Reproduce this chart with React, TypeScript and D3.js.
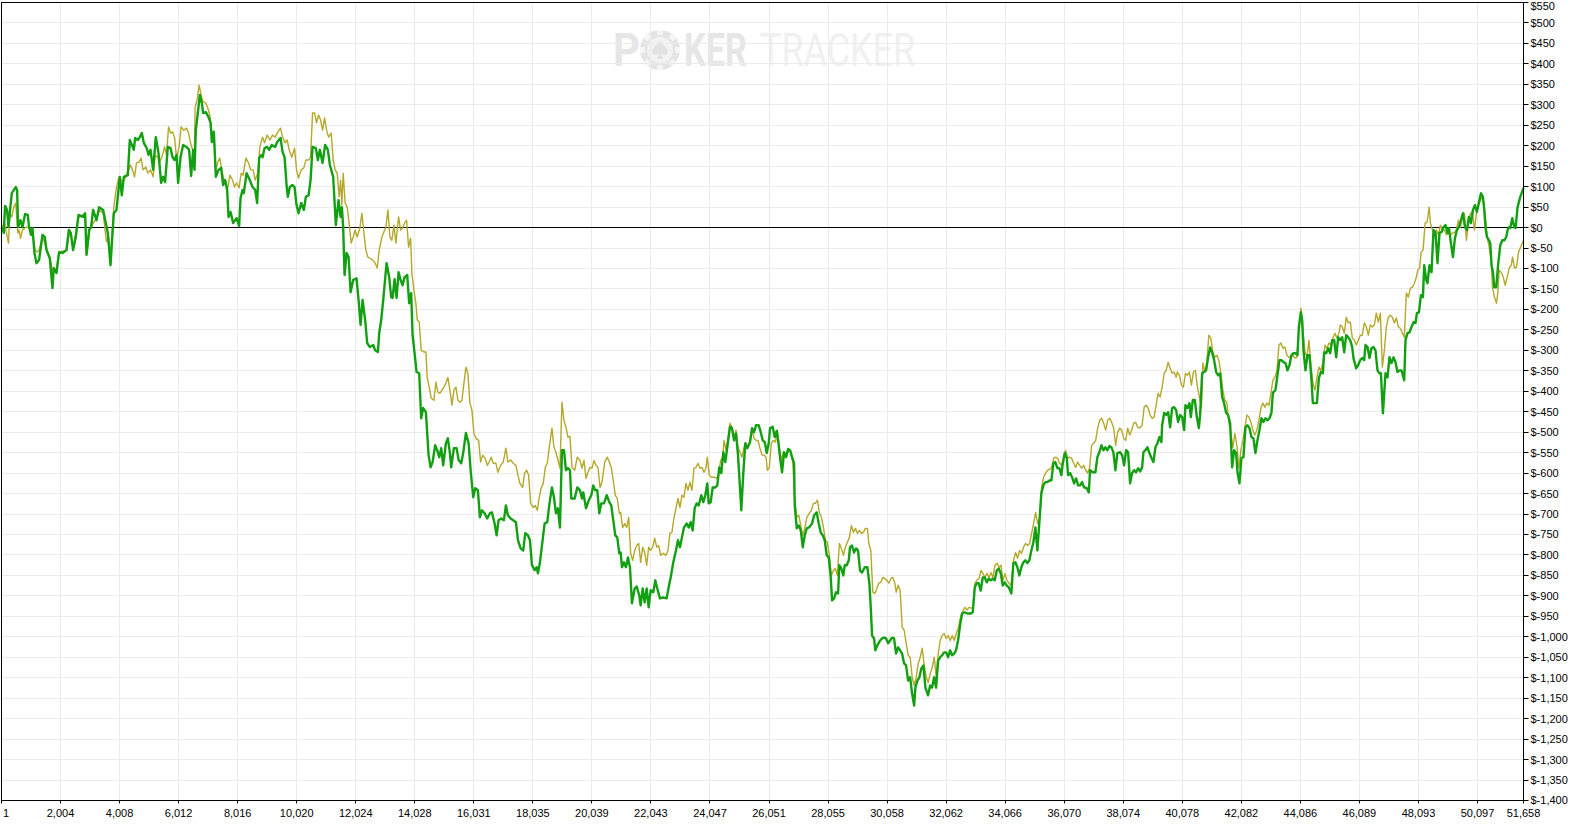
import React from 'react';
import * as d3 from 'd3';

// hand number -> cumulative winnings ($)
const greenSeries: [number, number][] = [
  [1,0],[78,-13],[122,53],[190,43],[238,2],[282,35],[350,84],[485,99],[530,92],[564,1],[645,18],[713,1],[801,33],[893,31],[937,1],[1005,-18],[1052,-1],[1120,-62],[1188,-87],[1277,-79],[1392,-18],[1470,-23],[1528,-55],[1640,-75],[1731,-148],[1776,-99],[1867,-111],[1956,-60],[2071,-62],[2207,-55],[2285,-6],[2353,-13],[2431,-55],[2522,-23],[2614,31],[2770,26],[2838,35],[2886,-67],[2974,-6],[3042,1],[3110,43],[3225,18],[3314,50],[3449,43],[3541,11],[3609,-13],[3701,-92],[3813,35],[3904,43],[4016,124],[4084,79],[4152,124],[4288,128],[4356,214],[4492,190],[4536,219],[4627,214],[4695,221],[4763,231],[4831,207],[4923,195],[4991,178],[5059,190],[5147,141],[5238,221],[5330,182],[5418,109],[5486,124],[5554,111],[5646,197],[5738,194],[5806,172],[5873,165],[5941,177],[5996,109],[6077,172],[6165,202],[6281,197],[6369,190],[6437,126],[6505,190],[6552,141],[6596,238],[6664,280],[6732,324],[6800,304],[6844,280],[6936,282],[7028,270],[7096,256],[7140,209],[7208,234],[7276,124],[7367,141],[7455,146],[7523,104],[7591,116],[7659,92],[7707,26],[7775,38],[7863,11],[7978,23],[8066,4],[8114,72],[8182,92],[8226,84],[8318,133],[8430,116],[8521,99],[8610,92],[8678,60],[8746,170],[8814,177],[8861,172],[8929,194],[9017,197],[9085,190],[9177,202],[9289,197],[9357,209],[9472,219],[9540,185],[9608,172],[9676,104],[9720,75],[9788,99],[9879,104],[9947,99],[10015,55],[10083,35],[10172,60],[10263,43],[10331,75],[10423,79],[10491,116],[10558,197],[10670,194],[10738,165],[10806,190],[10898,158],[10986,202],[11078,190],[11146,153],[11258,124],[11349,6],[11441,67],[11509,26],[11553,50],[11597,1],[11645,-116],[11713,-62],[11781,-72],[11849,-158],[11937,-128],[12052,-124],[12120,-177],[12188,-238],[12256,-177],[12344,-226],[12412,-282],[12504,-292],[12616,-287],[12684,-300],[12776,-304],[12820,-258],[12888,-226],[12956,-177],[13071,-87],[13160,-121],[13227,-170],[13275,-172],[13342,-126],[13410,-172],[13478,-109],[13546,-128],[13614,-141],[13682,-121],[13770,-116],[13838,-185],[13906,-160],[13953,-263],[14021,-307],[14089,-353],[14177,-356],[14245,-466],[14313,-441],[14405,-451],[14496,-556],[14564,-586],[14632,-573],[14720,-532],[14788,-544],[14856,-561],[14924,-539],[14992,-581],[15084,-527],[15152,-515],[15220,-551],[15264,-586],[15356,-539],[15447,-539],[15515,-568],[15603,-576],[15671,-551],[15763,-502],[15855,-527],[15923,-593],[16011,-659],[16079,-637],[16170,-642],[16238,-708],[16306,-691],[16398,-698],[16486,-711],[16578,-698],[16646,-696],[16737,-723],[16805,-752],[16873,-715],[16961,-711],[17053,-715],[17121,-679],[17189,-703],[17281,-711],[17369,-715],[17461,-720],[17529,-764],[17620,-784],[17709,-789],[17776,-747],[17868,-752],[17936,-764],[18004,-825],[18096,-837],[18164,-830],[18208,-845],[18276,-818],[18344,-777],[18435,-723],[18524,-720],[18591,-679],[18683,-635],[18751,-659],[18819,-698],[18887,-686],[18955,-733],[19023,-544],[19091,-544],[19159,-593],[19227,-588],[19295,-593],[19339,-662],[19455,-662],[19543,-635],[19635,-642],[19703,-662],[19747,-647],[19839,-686],[19930,-667],[20019,-654],[20086,-630],[20154,-642],[20222,-642],[20290,-698],[20358,-674],[20450,-674],[20542,-654],[20630,-671],[20696,-679],[20764,-715],[20832,-752],[20900,-757],[20968,-796],[21015,-794],[21059,-830],[21127,-818],[21195,-830],[21263,-806],[21331,-830],[21399,-918],[21491,-882],[21559,-877],[21647,-899],[21694,-923],[21762,-882],[21830,-916],[21898,-882],[21966,-928],[22034,-886],[22122,-891],[22190,-862],[22258,-882],[22349,-906],[22461,-904],[22577,-906],[22645,-879],[22713,-855],[22801,-818],[22893,-789],[22961,-764],[23028,-781],[23096,-757],[23164,-733],[23256,-723],[23324,-733],[23392,-720],[23460,-740],[23527,-686],[23595,-674],[23663,-679],[23752,-654],[23820,-671],[23888,-654],[23955,-625],[24003,-674],[24071,-671],[24139,-635],[24227,-635],[24295,-630],[24363,-586],[24431,-600],[24499,-549],[24567,-573],[24658,-524],[24726,-487],[24794,-490],[24862,-520],[24930,-503],[24998,-556],[25066,-637],[25110,-691],[25178,-600],[25246,-527],[25314,-539],[25406,-524],[25474,-490],[25542,-500],[25610,-483],[25702,-483],[25770,-500],[25837,-520],[25905,-524],[25973,-551],[26041,-527],[26085,-490],[26177,-487],[26245,-512],[26313,-497],[26381,-532],[26425,-563],[26493,-598],[26561,-549],[26629,-561],[26697,-541],[26765,-544],[26833,-561],[26901,-576],[26924,-679],[26992,-735],[27060,-728],[27128,-740],[27196,-781],[27264,-752],[27332,-735],[27420,-732],[27512,-723],[27580,-703],[27670,-696],[27738,-723],[27806,-745],[27874,-752],[27942,-764],[28010,-801],[28078,-806],[28146,-855],[28190,-911],[28258,-906],[28326,-891],[28394,-894],[28437,-825],[28505,-833],[28573,-850],[28621,-825],[28689,-825],[28757,-813],[28800,-781],[28868,-777],[28936,-794],[29004,-784],[29072,-789],[29140,-838],[29208,-843],[29300,-830],[29389,-830],[29457,-870],[29504,-928],[29548,-997],[29616,-1004],[29660,-1033],[29728,-1021],[29820,-1009],[29888,-1004],[29956,-1002],[30024,-1004],[30092,-1016],[30159,-1009],[30227,-1002],[30295,-1004],[30363,-1041],[30431,-1026],[30499,-1033],[30567,-1041],[30635,-1065],[30703,-1070],[30771,-1107],[30839,-1099],[30907,-1138],[30975,-1168],[31019,-1124],[31087,-1107],[31155,-1099],[31223,-1077],[31291,-1070],[31359,-1124],[31450,-1143],[31518,-1119],[31586,-1124],[31654,-1099],[31722,-1124],[31790,-1058],[31858,-1050],[31926,-1045],[31994,-1038],[32062,-1038],[32130,-1050],[32197,-1033],[32265,-1045],[32333,-1041],[32399,-1033],[32467,-1009],[32535,-972],[32602,-943],[32694,-940],[32782,-943],[32898,-943],[32966,-940],[33034,-879],[33102,-869],[33169,-869],[33237,-887],[33305,-855],[33373,-855],[33441,-867],[33509,-858],[33577,-862],[33645,-858],[33712,-862],[33780,-838],[33848,-833],[33916,-845],[33984,-875],[34052,-867],[34120,-875],[34188,-879],[34276,-894],[34344,-820],[34412,-818],[34480,-830],[34548,-850],[34615,-830],[34683,-818],[34751,-813],[34819,-820],[34887,-813],[34955,-789],[35023,-769],[35091,-733],[35159,-789],[35226,-720],[35294,-649],[35362,-630],[35430,-622],[35498,-622],[35566,-618],[35634,-618],[35702,-576],[35770,-573],[35838,-588],[35906,-588],[35973,-605],[36021,-576],[36089,-551],[36157,-563],[36201,-605],[36269,-600],[36337,-610],[36405,-625],[36473,-613],[36541,-630],[36609,-630],[36677,-622],[36744,-635],[36836,-637],[36904,-647],[36948,-593],[37040,-598],[37128,-598],[37196,-561],[37264,-549],[37332,-532],[37400,-544],[37467,-537],[37535,-544],[37603,-534],[37671,-537],[37739,-549],[37807,-593],[37875,-551],[37967,-549],[38035,-556],[38103,-581],[38170,-544],[38238,-549],[38306,-625],[38374,-600],[38442,-593],[38510,-598],[38578,-588],[38646,-596],[38714,-586],[38758,-549],[38826,-544],[38894,-537],[38962,-551],[39030,-563],[39097,-573],[39165,-537],[39233,-527],[39301,-512],[39369,-524],[39393,-483],[39461,-453],[39529,-458],[39597,-451],[39664,-488],[39732,-441],[39800,-439],[39868,-446],[39936,-475],[40004,-458],[40072,-463],[40140,-495],[40184,-434],[40252,-441],[40319,-429],[40367,-463],[40435,-421],[40503,-421],[40571,-463],[40639,-490],[40683,-458],[40751,-356],[40818,-353],[40886,-349],[40954,-317],[41022,-293],[41090,-305],[41158,-324],[41226,-353],[41294,-361],[41362,-356],[41430,-414],[41497,-429],[41565,-453],[41633,-458],[41701,-478],[41769,-586],[41837,-544],[41905,-551],[41949,-598],[42017,-625],[42085,-563],[42153,-561],[42221,-488],[42289,-483],[42357,-490],[42424,-512],[42492,-515],[42560,-551],[42628,-520],[42696,-495],[42764,-466],[42832,-475],[42900,-466],[42968,-471],[43036,-466],[43103,-453],[43151,-404],[43239,-397],[43307,-361],[43375,-324],[43443,-324],[43511,-329],[43579,-331],[43647,-349],[43715,-336],[43782,-312],[43850,-307],[43918,-307],[43986,-312],[44034,-243],[44102,-207],[44146,-226],[44190,-300],[44258,-349],[44326,-312],[44394,-312],[44462,-373],[44509,-429],[44577,-429],[44645,-429],[44713,-368],[44781,-353],[44849,-356],[44893,-305],[44961,-307],[45029,-295],[45097,-307],[45165,-275],[45233,-275],[45301,-317],[45368,-268],[45436,-275],[45504,-268],[45572,-305],[45640,-263],[45708,-268],[45776,-275],[45844,-292],[45888,-319],[45979,-344],[46047,-336],[46115,-324],[46183,-319],[46251,-324],[46295,-287],[46363,-292],[46431,-319],[46499,-295],[46567,-292],[46634,-300],[46702,-349],[46770,-356],[46818,-356],[46886,-454],[46930,-405],[46974,-356],[47042,-366],[47110,-317],[47178,-331],[47246,-317],[47314,-329],[47381,-353],[47449,-349],[47517,-349],[47609,-373],[47653,-275],[47721,-258],[47789,-256],[47857,-243],[47925,-231],[47993,-233],[48041,-209],[48109,-207],[48177,-165],[48244,-170],[48288,-92],[48356,-128],[48400,-136],[48468,-92],[48536,-109],[48604,-6],[48672,-13],[48740,-87],[48808,-13],[48876,-11],[48944,1],[49011,6],[49079,-13],[49127,-1],[49195,-38],[49263,-72],[49331,-26],[49399,-6],[49467,1],[49535,18],[49603,35],[49671,1],[49738,-6],[49806,26],[49874,11],[49942,43],[50010,55],[50078,38],[50146,62],[50214,84],[50282,75],[50326,43],[50370,-1],[50418,-23],[50486,-31],[50530,-38],[50574,-92],[50622,-109],[50666,-146],[50734,-146],[50802,-87],[50870,-43],[50938,-31],[51006,-31],[51074,-23],[51118,-6],[51165,1],[51209,-1],[51277,23],[51345,1],[51389,-1],[51457,50],[51549,75],[51658,97],
];

const yellowSeries: [number, number][] = [
  [1,0],[102,11],[170,-13],[238,-38],[282,35],[350,26],[418,50],[485,60],[553,-13],[598,-6],[645,-26],[713,-6],[825,1],[961,-1],[1052,-13],[1141,-55],[1209,-60],[1277,-55],[1392,-23],[1640,-72],[1731,-104],[1843,-109],[1956,-60],[2207,-55],[2319,-6],[2431,-48],[2614,23],[2838,35],[2906,-62],[2998,-6],[3134,13],[3225,23],[3337,43],[3449,35],[3565,-35],[3633,-23],[3701,-72],[3813,50],[3904,99],[3993,124],[4108,111],[4220,124],[4312,141],[4380,153],[4447,141],[4515,124],[4583,158],[4672,160],[4739,170],[4807,141],[4899,148],[4967,133],[5059,141],[5147,124],[5215,177],[5306,172],[5374,160],[5466,177],[5534,197],[5602,177],[5670,246],[5738,231],[5806,234],[5873,221],[5941,170],[6030,197],[6097,246],[6189,238],[6281,243],[6349,231],[6417,207],[6484,190],[6552,190],[6573,295],[6641,312],[6708,348],[6776,324],[6844,307],[6936,304],[7004,292],[7072,275],[7140,234],[7208,234],[7276,141],[7343,160],[7411,170],[7479,141],[7547,116],[7615,104],[7683,97],[7751,128],[7843,116],[7910,99],[7978,109],[8066,97],[8134,133],[8202,128],[8294,170],[8386,158],[8454,141],[8542,141],[8610,116],[8701,133],[8769,197],[8861,221],[8929,207],[9017,226],[9109,214],[9200,226],[9289,221],[9380,234],[9472,243],[9540,221],[9628,207],[9696,214],[9764,190],[9856,172],[9947,194],[10015,141],[10083,121],[10172,141],[10263,146],[10331,165],[10423,165],[10491,172],[10558,280],[10626,280],[10694,256],[10762,275],[10830,263],[10898,238],[10966,268],[11034,238],[11102,221],[11190,231],[11258,165],[11326,141],[11394,133],[11461,75],[11509,116],[11553,55],[11597,133],[11665,60],[11733,50],[11801,11],[11869,-38],[11937,-23],[12005,-6],[12073,-23],[12164,-1],[12232,35],[12300,-13],[12368,-55],[12436,-72],[12504,-75],[12596,-79],[12684,-87],[12752,-99],[12820,-55],[12911,-23],[12979,-11],[13047,1],[13115,43],[13183,-23],[13251,-31],[13319,6],[13387,-38],[13478,26],[13546,-6],[13614,-1],[13682,11],[13750,18],[13818,-48],[13886,-26],[13930,-111],[13998,-153],[14066,-185],[14110,-226],[14178,-231],[14246,-300],[14337,-304],[14405,-304],[14449,-366],[14517,-390],[14585,-417],[14677,-422],[14745,-378],[14813,-402],[14881,-405],[14949,-397],[15016,-390],[15084,-380],[15152,-366],[15220,-397],[15288,-434],[15356,-397],[15424,-390],[15492,-422],[15560,-427],[15628,-422],[15696,-380],[15763,-341],[15831,-356],[15899,-429],[15967,-446],[16035,-503],[16103,-515],[16195,-520],[16262,-573],[16330,-556],[16418,-564],[16486,-581],[16554,-573],[16622,-561],[16690,-576],[16782,-576],[16850,-598],[16941,-581],[17030,-573],[17121,-539],[17189,-573],[17281,-568],[17369,-576],[17461,-581],[17529,-605],[17597,-625],[17688,-635],[17756,-600],[17824,-593],[17892,-605],[17960,-674],[18049,-684],[18117,-679],[18185,-691],[18253,-659],[18321,-635],[18389,-625],[18457,-586],[18524,-576],[18592,-537],[18683,-490],[18751,-537],[18819,-549],[18887,-568],[18955,-588],[19023,-427],[19091,-471],[19159,-488],[19227,-512],[19295,-510],[19363,-586],[19455,-593],[19543,-561],[19635,-569],[19703,-588],[19771,-569],[19839,-613],[19907,-598],[19975,-586],[20043,-588],[20110,-569],[20178,-581],[20246,-586],[20314,-635],[20382,-622],[20474,-573],[20562,-561],[20630,-573],[20696,-586],[20764,-618],[20832,-654],[20900,-662],[20968,-698],[21015,-696],[21083,-733],[21151,-723],[21219,-733],[21287,-708],[21355,-796],[21423,-813],[21491,-789],[21559,-777],[21627,-772],[21694,-818],[21762,-781],[21830,-794],[21898,-825],[21966,-781],[22034,-789],[22102,-781],[22170,-759],[22238,-781],[22306,-777],[22373,-801],[22461,-796],[22553,-801],[22621,-789],[22689,-747],[22757,-745],[22825,-708],[22893,-686],[22961,-662],[23028,-684],[23096,-654],[23164,-659],[23232,-625],[23300,-642],[23368,-622],[23436,-642],[23504,-588],[23572,-586],[23640,-576],[23708,-588],[23775,-586],[23843,-598],[23911,-588],[23955,-561],[24023,-605],[24091,-610],[24183,-610],[24275,-613],[24343,-600],[24411,-569],[24479,-561],[24523,-520],[24591,-544],[24658,-515],[24726,-478],[24794,-488],[24862,-515],[24930,-495],[24998,-537],[25066,-549],[25134,-561],[25202,-537],[25270,-527],[25338,-537],[25406,-524],[25474,-490],[25542,-515],[25610,-520],[25678,-520],[25746,-540],[25814,-556],[25882,-556],[25950,-561],[25994,-593],[26062,-586],[26130,-527],[26198,-520],[26266,-524],[26334,-495],[26402,-539],[26470,-569],[26538,-549],[26606,-561],[26674,-551],[26765,-544],[26857,-573],[26925,-666],[26992,-708],[27060,-703],[27128,-728],[27196,-752],[27264,-735],[27332,-708],[27420,-698],[27488,-691],[27556,-674],[27624,-674],[27692,-666],[27760,-696],[27828,-708],[27896,-732],[27964,-764],[28031,-769],[28099,-801],[28167,-850],[28235,-838],[28303,-833],[28371,-850],[28439,-772],[28507,-784],[28575,-801],[28643,-781],[28711,-769],[28779,-757],[28847,-728],[28915,-745],[28983,-735],[29051,-747],[29119,-740],[29186,-747],[29254,-745],[29322,-735],[29390,-735],[29438,-772],[29506,-789],[29574,-891],[29642,-894],[29710,-882],[29778,-869],[29846,-867],[29914,-855],[29982,-858],[30050,-862],[30118,-869],[30186,-858],[30254,-855],[30322,-869],[30366,-891],[30434,-874],[30502,-887],[30570,-977],[30638,-984],[30706,-1016],[30774,-1045],[30842,-1050],[30910,-1099],[30978,-1119],[31046,-1099],[31114,-1065],[31182,-1050],[31250,-1028],[31318,-1070],[31386,-1099],[31454,-1112],[31522,-1090],[31590,-1075],[31658,-1050],[31726,-1099],[31794,-1041],[31862,-1009],[31930,-997],[31998,-992],[32066,-1004],[32134,-997],[32201,-1009],[32269,-997],[32337,-1009],[32405,-992],[32473,-980],[32541,-955],[32609,-940],[32701,-928],[32769,-935],[32837,-928],[32905,-930],[32973,-928],[33041,-869],[33109,-862],[33176,-858],[33244,-838],[33312,-845],[33380,-855],[33448,-845],[33516,-855],[33584,-843],[33652,-855],[33720,-825],[33788,-820],[33856,-830],[33924,-825],[33992,-862],[34060,-845],[34127,-862],[34195,-869],[34263,-874],[34351,-813],[34419,-794],[34487,-808],[34555,-789],[34623,-796],[34691,-781],[34759,-772],[34827,-777],[34895,-772],[34963,-747],[35031,-723],[35099,-696],[35167,-723],[35235,-715],[35303,-635],[35371,-610],[35439,-600],[35507,-593],[35575,-591],[35643,-586],[35711,-564],[35778,-561],[35846,-564],[35914,-576],[35982,-581],[36050,-564],[36118,-544],[36186,-564],[36254,-561],[36322,-564],[36390,-576],[36458,-586],[36526,-573],[36594,-581],[36661,-588],[36729,-581],[36797,-593],[36865,-600],[36933,-586],[37001,-532],[37069,-527],[37137,-520],[37205,-490],[37273,-471],[37341,-466],[37409,-478],[37477,-495],[37544,-471],[37612,-466],[37680,-476],[37748,-490],[37816,-532],[37884,-500],[37952,-490],[38020,-495],[38088,-515],[38156,-520],[38224,-490],[38292,-507],[38360,-495],[38428,-478],[38495,-476],[38563,-488],[38631,-490],[38714,-483],[38782,-439],[38849,-434],[38917,-441],[38985,-458],[39053,-466],[39121,-463],[39189,-434],[39257,-405],[39325,-414],[39393,-390],[39461,-356],[39529,-349],[39597,-329],[39664,-344],[39732,-356],[39800,-353],[39868,-366],[39912,-353],[39980,-361],[40048,-385],[40116,-390],[40184,-356],[40252,-361],[40319,-353],[40387,-385],[40455,-353],[40523,-349],[40591,-390],[40659,-414],[40727,-441],[40775,-331],[40842,-353],[40910,-329],[40978,-263],[41046,-270],[41114,-304],[41182,-317],[41250,-312],[41318,-324],[41386,-356],[41454,-397],[41522,-422],[41590,-427],[41658,-478],[41726,-503],[41794,-537],[41862,-503],[41930,-532],[41998,-588],[42066,-544],[42134,-520],[42202,-488],[42270,-458],[42338,-463],[42406,-476],[42473,-495],[42541,-507],[42609,-495],[42677,-471],[42745,-441],[42813,-429],[42881,-439],[42949,-429],[43017,-434],[43085,-405],[43153,-373],[43221,-366],[43289,-349],[43357,-287],[43425,-282],[43493,-295],[43561,-292],[43629,-312],[43697,-317],[43764,-317],[43832,-312],[43900,-319],[43968,-317],[44036,-243],[44104,-197],[44172,-251],[44240,-304],[44308,-317],[44376,-275],[44444,-336],[44512,-380],[44580,-397],[44648,-366],[44716,-341],[44784,-349],[44852,-329],[44920,-287],[44988,-295],[45056,-282],[45124,-287],[45192,-270],[45260,-258],[45327,-270],[45395,-258],[45440,-238],[45508,-243],[45576,-258],[45644,-219],[45712,-233],[45780,-231],[45848,-270],[45916,-275],[45984,-287],[46052,-275],[46120,-263],[46188,-263],[46256,-233],[46324,-243],[46391,-263],[46459,-238],[46527,-243],[46595,-238],[46663,-209],[46731,-231],[46799,-209],[46867,-341],[46935,-300],[47003,-243],[47071,-219],[47139,-214],[47207,-219],[47275,-233],[47343,-221],[47411,-243],[47479,-246],[47546,-258],[47614,-268],[47682,-160],[47750,-170],[47818,-148],[47886,-146],[47954,-136],[48022,-121],[48066,-104],[48134,-99],[48182,-60],[48250,-55],[48318,11],[48386,13],[48454,50],[48498,11],[48566,-6],[48634,-13],[48702,-6],[48770,-18],[48838,6],[48906,-6],[48974,-6],[49042,-18],[49110,-13],[49178,-18],[49245,-13],[49313,-13],[49381,-6],[49449,18],[49517,1],[49585,26],[49653,35],[49721,-31],[49789,13],[49857,35],[49925,38],[49993,-6],[50061,35],[50129,55],[50197,67],[50265,75],[50309,60],[50377,18],[50425,-23],[50493,-48],[50561,-79],[50605,-146],[50673,-170],[50741,-185],[50785,-160],[50833,-104],[50901,-109],[50969,-121],[51037,-141],[51105,-121],[51173,-99],[51241,-92],[51285,-72],[51353,-99],[51421,-97],[51489,-60],[51557,-48],[51658,-31],
];

const handTicks = [1, 2004, 4008, 6012, 8016, 10020, 12024, 14028, 16031, 18035, 20039, 22043, 24047, 26051, 28055, 30058, 32062, 34066, 36070, 38074, 40078, 42082, 44086, 46089, 48093, 50097, 51658];
const moneyTicks = d3.range(-1400, 551, 50);

const W = 1577;
const H = 826;
const PL = 1.5;
const PR = 1523.5;
const PT = 2.5;
const PB = 800.5;

const fmtNum = d3.format(',');
const fmtMoney = (v: number) => (v < 0 ? '$-' + fmtNum(-v) : '$' + fmtNum(v));
const crisp = (v: number) => Math.round(v - 0.5) + 0.5;

const FONT = "'Liberation Sans', Arial, sans-serif";
const MARK_FONT = "Roboto, 'Liberation Sans', sans-serif";

export default function App() {
  const x = d3.scaleLinear().domain([1, 51658]).range([PL, PR]);
  const y = d3.scaleLinear().domain([-1400, 550]).range([PB, PT]);

  const line = d3.line<[number, number]>()
    .x(d => x(d[0]))
    .y(d => y(d[1]));

  // chip notches for the watermark "O"
  const notches = d3.range(8).map(i => i * 45);

  return (
    <div style={{ position: 'absolute', left: 0, top: 0, background: '#fff' }}>
      <svg width={W} height={H} style={{ display: 'block' }}>
        <rect x={0} y={0} width={W} height={H} fill="#fff" />

        {/* watermark */}
        <g>
          <text x={613} y={66} fontFamily={MARK_FONT} fontWeight="bold"
            fontSize={46} fill="#e6e6e6" textLength={27} lengthAdjust="spacingAndGlyphs">P</text>
          <g transform="translate(660,50)">
            <circle r={20} fill="#e4e4e4" />
            {notches.map(a => (
              <rect key={a} x={-3} y={-20} width={6} height={5} fill="#f5f5f5" transform={`rotate(${a})`} />
            ))}
            <circle r={13} fill="#f3f3f3" />
            <path d="M0,-9 C3,-5 8,-2 8,2 C8,5 4,6 1,4 L3,9 L-3,9 L-1,4 C-4,6 -8,5 -8,2 C-8,-2 -3,-5 0,-9 Z" fill="#e2e2e2" />
          </g>
          <text x={684} y={66} fontFamily={MARK_FONT} fontWeight="bold"
            fontSize={46} fill="#e6e6e6" textLength={63} lengthAdjust="spacingAndGlyphs">KER</text>
          <text x={760} y={66} fontFamily={MARK_FONT}
            fontSize={46} fill="#f0f0f0" textLength={155} lengthAdjust="spacingAndGlyphs">TRACKER</text>
        </g>

        {/* grid */}
        <g stroke="#ebebeb" strokeWidth={1}>
          {moneyTicks.map(v => (
            <line key={'h' + v} x1={PL} x2={PR} y1={crisp(y(v))} y2={crisp(y(v))} />
          ))}
          {handTicks.map(h => (
            <line key={'v' + h} x1={crisp(x(h))} x2={crisp(x(h))} y1={PT} y2={PB} />
          ))}
        </g>

        {/* zero line */}
        <line x1={PL} x2={PR} y1={crisp(y(0))} y2={crisp(y(0))} stroke="#000" strokeWidth={1} />

        {/* series */}
        <path d={line(yellowSeries) || ''} fill="none" stroke="#b5a82a" strokeWidth={1.4} strokeLinejoin="round" />
        <path d={line(greenSeries) || ''} fill="none" stroke="#12a012" strokeWidth={2.4} strokeLinejoin="round" />

        {/* frame */}
        <rect x={PL} y={PT} width={PR - PL} height={PB - PT} fill="none" stroke="#000" strokeWidth={1} />

        {/* right axis */}
        <g fontFamily={FONT} fontSize={11} fill="#000">
          {moneyTicks.map(v => (
            <g key={'yt' + v}>
              <line x1={PR} x2={PR + 5} y1={crisp(y(v))} y2={crisp(y(v))} stroke="#000" />
              <text x={PR + 7} y={Math.max(y(v), 6)} dy="0.36em">{fmtMoney(v)}</text>
            </g>
          ))}
        </g>

        {/* bottom axis */}
        <g fontFamily={FONT} fontSize={11} fill="#000">
          {handTicks.map(h => (
            <g key={'xt' + h}>
              <line x1={crisp(x(h))} x2={crisp(x(h))} y1={PB} y2={PB + 3} stroke="#000" />
              <text x={Math.max(x(h), 3)} y={PB + 16} textAnchor={h === 1 ? 'start' : 'middle'}>{fmtNum(h)}</text>
            </g>
          ))}
        </g>
      </svg>
    </div>
  );
}
